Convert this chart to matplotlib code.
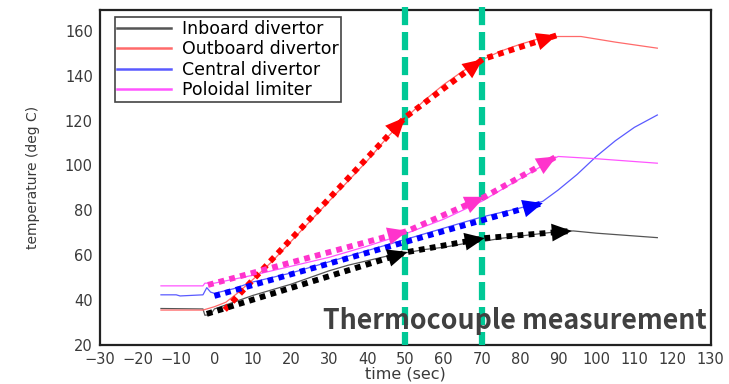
import matplotlib.pyplot as plt

plt.rcParams['font.family'] = ['DejaVu Sans']

# thermocouple traces (time in sec, temperature in deg C)
t_in = [-14, -3, -2.5, -1, 0, 5, 10, 15, 20, 25, 30, 35, 40, 45, 50, 55, 60, 65, 70, 75, 80, 85, 90, 94, 100, 108, 116]
T_in = [36.2, 36.0, 33.2, 33.5, 36, 39, 42, 44.5, 47, 50, 53, 55.5, 57.5, 59.5, 61, 62.5, 63.5, 65, 66, 67.5, 68.5, 69.5, 70.5, 70.8, 69.8, 68.8, 67.8]

t_out = [-14, -3, 0, 3, 6, 10, 15, 20, 25, 30, 35, 40, 45, 50, 55, 60, 65, 70, 75, 80, 85, 90, 96, 105, 116]
T_out = [35.5, 35.5, 37, 39, 43, 49, 57, 66, 75, 84, 93, 102, 112, 121, 129, 136, 142, 147, 151, 154, 156.5, 157.5, 157.5, 155, 152.3]

t_cen = [-14, -10, -9, -3, -2, -1, 0, 5, 10, 20, 30, 40, 50, 60, 70, 80, 86, 90, 95, 100, 105, 110, 116]
T_cen = [42.3, 42.3, 41.8, 42.3, 45.5, 43.5, 43, 45, 48, 52, 57, 62, 67, 72, 77, 81, 84, 89, 96, 104, 111, 117, 122.5]

t_pol = [-14, -3, -2.5, 0, 10, 20, 30, 40, 50, 60, 70, 75, 80, 85, 90, 100, 116]
T_pol = [46.3, 46.3, 47.5, 47.5, 51, 55, 59, 64, 69.5, 76, 84, 89, 94, 99, 104, 103, 101]

# hand-drawn trend arrows: vertices, arrowhead at the end of every segment
arr_out = [(2.7, 35.6), (50, 121.5), (70.3, 147.4), (89.6, 158)]
arr_in = [(-2, 33.8), (50.6, 61.4), (70.8, 67.6), (93.6, 70.8)]
arr_cen = [(0, 41.8), (86, 83.2)]
arr_pol = [(-1.7, 46.7), (50.6, 70.8), (70.8, 86), (89.6, 104)]

fig = plt.figure(figsize=(7.29, 3.84), dpi=100)
ax = fig.add_axes([0.137, 0.102, 0.838, 0.873])

ax.plot(t_in, T_in, color='#555555', lw=0.9, label='Inboard divertor')
ax.plot(t_out, T_out, color='#ff6a6a', lw=0.9, label='Outboard divertor')
ax.plot(t_cen, T_cen, color='#5a5aff', lw=0.9, label='Central divertor')
ax.plot(t_pol, T_pol, color='#ff55ff', lw=0.9, label='Poloidal limiter')


def trend(pts, color):
    xs = [p[0] for p in pts]
    ys = [p[1] for p in pts]
    ax.plot(xs, ys, color=color, lw=4.2, ls=(0, (1, 0.9)), zorder=4)
    for (x0, y0), (x1, y1) in zip(pts[:-1], pts[1:]):
        back = (x1 - 0.02 * (x1 - x0), y1 - 0.02 * (y1 - y0))
        ax.annotate('', xy=(x1, y1), xytext=back, zorder=5,
                    arrowprops=dict(arrowstyle='-|>,head_length=0.9,head_width=0.4',
                                    color=color, lw=0, mutation_scale=16,
                                    shrinkA=0, shrinkB=0))


trend(arr_out, '#ff0000')
trend(arr_pol, '#ff33cc')
trend(arr_cen, '#0000ff')
trend(arr_in, '#000000')

for xv in [50, 70]:
    ax.plot([xv, xv], [170.5, 20], color='#00c896', lw=4.5, ls=(0, (2.9, 1.1)),
            zorder=3, clip_on=False)

ax.set_xlim(-30, 130)
ax.set_ylim(20, 169.5)
ax.set_xticks(range(-30, 131, 10))
ax.set_yticks(range(20, 161, 20))
ax.tick_params(length=0, labelsize=10.5, colors='#3a3a3a', pad=5)
for s in ax.spines.values():
    s.set_linewidth(1.6)
    s.set_color('#222222')

ax.set_xlabel('time (sec)', fontsize=11.5, color='#3a3a3a', labelpad=0)
ax.set_ylabel('temperature (deg C)', fontsize=10, color='#3a3a3a', labelpad=18)

leg = ax.legend(loc='upper left', bbox_to_anchor=(0.0245, 0.978), fontsize=12.5,
                handlelength=3.1, handletextpad=0.6, borderpad=0.15,
                labelspacing=0.15, borderaxespad=0, fancybox=False, framealpha=1)
leg.get_frame().set_edgecolor('#444444')
leg.get_frame().set_linewidth(1.2)
for h in leg.get_lines():
    h.set_linewidth(1.8)

ax.text(0.993, 0.03, 'Thermocouple measurement', transform=ax.transAxes,
        ha='right', va='bottom', fontsize=19.3, fontweight='bold',
        color='#404040', family=['Noto Sans CJK KR', 'DejaVu Sans'], zorder=6)

fig.savefig('out.png', dpi=100)
